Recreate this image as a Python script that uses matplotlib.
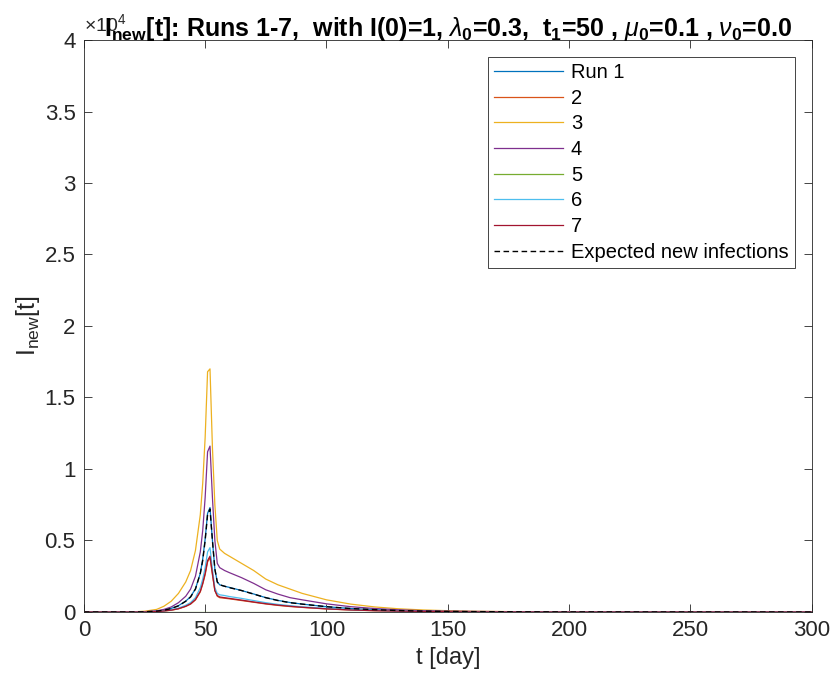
import matplotlib
matplotlib.use('Agg')
import matplotlib.pyplot as plt
from matplotlib.ticker import FuncFormatter

# days
days = [0, 10, 20, 25, 30, 33, 36, 39, 42, 44, 46, 48, 49, 50, 51, 52, 53, 54, 55, 56,
        58, 60, 65, 70, 75, 80, 85, 90, 100, 110, 120, 130, 140, 150, 160, 180, 200, 250, 300]

# new infections (x 1e4)
run1 = [0, 0, 0, 0.001, 0.006, 0.012, 0.025, 0.044, 0.076, 0.107, 0.162, 0.27, 0.37, 0.51, 0.69, 0.73,
        0.5, 0.3, 0.21, 0.19, 0.18, 0.172, 0.15, 0.126, 0.1, 0.081, 0.066, 0.055, 0.037, 0.024,
        0.016, 0.01, 0.006, 0.004, 0.0025, 0.001, 0.0003, 0, 0]
run2 = [0, 0, 0, 0.0005, 0.003, 0.007, 0.012, 0.022, 0.039, 0.055, 0.084, 0.14, 0.195, 0.26, 0.35, 0.38,
        0.26, 0.15, 0.11, 0.1, 0.096, 0.092, 0.08, 0.068, 0.056, 0.046, 0.038, 0.032, 0.021, 0.014,
        0.009, 0.006, 0.004, 0.002, 0.001, 0.0005, 0, 0, 0]
run3 = [0, 0, 0.001, 0.005, 0.018, 0.04, 0.075, 0.13, 0.21, 0.29, 0.43, 0.68, 0.9, 1.22, 1.68, 1.70,
        1.15, 0.75, 0.5, 0.44, 0.41, 0.39, 0.34, 0.29, 0.23, 0.19, 0.16, 0.13, 0.085, 0.055,
        0.035, 0.022, 0.014, 0.009, 0.005, 0.002, 0.001, 0, 0]
run4 = [0, 0, 0, 0.002, 0.008, 0.018, 0.035, 0.065, 0.11, 0.16, 0.25, 0.42, 0.57, 0.8, 1.12, 1.16,
        0.8, 0.5, 0.34, 0.31, 0.29, 0.275, 0.24, 0.2, 0.155, 0.125, 0.1, 0.085, 0.057, 0.037,
        0.024, 0.015, 0.009, 0.006, 0.004, 0.0015, 0.0005, 0, 0]
run5 = [0] * len(days)
run6 = [0, 0, 0, 0.0008, 0.004, 0.008, 0.015, 0.027, 0.047, 0.066, 0.1, 0.17, 0.23, 0.31, 0.42, 0.45,
        0.3, 0.17, 0.13, 0.12, 0.115, 0.108, 0.095, 0.08, 0.065, 0.053, 0.044, 0.036, 0.025, 0.016,
        0.011, 0.007, 0.004, 0.0025, 0.0015, 0.0005, 0, 0, 0]
run7 = [0, 0, 0, 0.0006, 0.003, 0.007, 0.013, 0.023, 0.04, 0.057, 0.087, 0.145, 0.2, 0.27, 0.36, 0.39,
        0.27, 0.15, 0.115, 0.105, 0.1, 0.095, 0.083, 0.07, 0.058, 0.048, 0.04, 0.033, 0.022, 0.014,
        0.009, 0.006, 0.004, 0.002, 0.001, 0.0005, 0, 0, 0]
expected = [0, 0, 0, 0.001, 0.006, 0.012, 0.024, 0.043, 0.075, 0.105, 0.16, 0.27, 0.36, 0.5, 0.68, 0.72,
            0.5, 0.3, 0.21, 0.19, 0.18, 0.17, 0.15, 0.125, 0.1, 0.08, 0.065, 0.055, 0.037, 0.024,
            0.016, 0.01, 0.006, 0.004, 0.0025, 0.001, 0.0003, 0, 0]

runs = [run1, run2, run3, run4, run5, run6, run7]
labels = ['Run 1', '2', '3', '4', '5', '6', '7']
colors = ['#0072BD', '#D95319', '#EDB120', '#7E2F8E', '#77AC30', '#4DBEEE', '#A2142F']

plt.rcParams['font.family'] = ['Liberation Sans', 'DejaVu Sans']
plt.rcParams['mathtext.fontset'] = 'custom'
plt.rcParams['mathtext.rm'] = 'Liberation Sans'
plt.rcParams['mathtext.bf'] = 'Liberation Sans:bold'
plt.rcParams['mathtext.it'] = 'Liberation Sans:italic'

gray = '#262626'
fig = plt.figure(figsize=(8.3, 6.85), dpi=100)
ax = fig.add_axes([0.101, 0.1066, 0.877, 0.835])

for r, lab, c in zip(runs, labels, colors):
    ax.plot(days, [v * 1e4 for v in r], color=c, lw=0.9, label=lab)
ax.plot(days, [v * 1e4 for v in expected], color='k', lw=1.0, ls=(0, (4, 2.5)),
        label='Expected new infections')

ax.set_xlim(0, 300)
ax.set_ylim(0, 4e4)
ax.set_xticks(range(0, 301, 50))
ax.set_yticks([i * 5000 for i in range(9)])
ax.yaxis.set_major_formatter(FuncFormatter(lambda v, p: f'{v / 1e4:g}'))
ax.tick_params(direction='in', top=True, right=True, length=6, width=0.6,
               colors=gray, labelsize=16, pad=6)
for s in ax.spines.values():
    s.set_color(gray)
    s.set_linewidth(0.6)

ax.text(0.0, 1.008, r'$\times10^4$', transform=ax.transAxes, fontsize=14, color=gray,
        ha='left', va='bottom')

ax.set_xlabel('t [day]', fontsize=17, color=gray, labelpad=4)
ax.set_ylabel(r'I$_{\rm new}$[t]', fontsize=18, color=gray, labelpad=2)
ax.set_title(r'I$_{\bf new}$[t]: Runs 1-7,  with I(0)=1, $\lambda_{\bf 0}$=0.3,  t$_{\bf 1}$=50 , '
             r'$\mu_{\bf 0}$=0.1 , $\nu_{\bf 0}$=0.0',
             fontsize=18, fontweight='bold', pad=3)

leg = ax.legend(loc='upper right', fontsize=14.5, handlelength=3.4, handletextpad=0.4,
                labelspacing=0.33, borderpad=0.3, fancybox=False, framealpha=1,
                borderaxespad=0.85)
leg.get_frame().set_edgecolor(gray)
leg.get_frame().set_linewidth(0.6)

fig.savefig('out.png', dpi=100)
